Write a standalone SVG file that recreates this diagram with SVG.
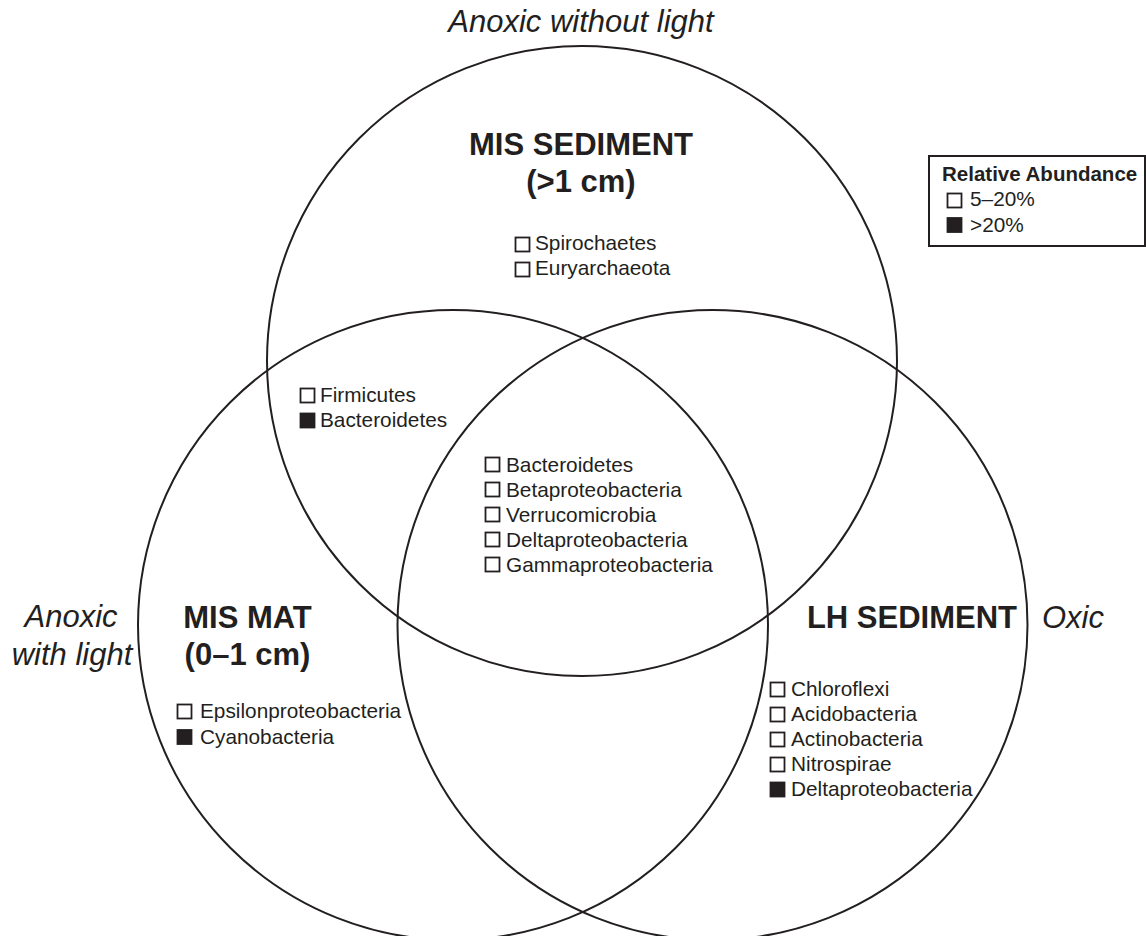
<svg xmlns="http://www.w3.org/2000/svg" width="1146" height="936" viewBox="0 0 1146 936">
<style>
.c{fill:none;stroke:#231f20;stroke-width:2}
.t{font-family:"Liberation Sans",Arial,sans-serif;fill:#231f20}
.h{font-size:31px;font-weight:bold;text-anchor:middle}
.i{font-size:31px;font-style:italic}
.l{font-size:20.8px}
.bo{fill:#fff;stroke:#231f20;stroke-width:1.8}
.bf{fill:#231f20;stroke:#231f20;stroke-width:1.8}
</style>
<rect width="1146" height="936" fill="#fff"/>
<g id="circles">
<circle id="c-top" class="c" cx="582" cy="361" r="315"/>
<circle id="c-left" class="c" cx="453" cy="625" r="315"/>
<circle id="c-right" class="c" cx="712.5" cy="625" r="315"/>
</g>
<g id="condition-labels" class="t i">
<text x="581" y="32" text-anchor="middle">Anoxic without light</text>
<text x="71" y="627" text-anchor="middle">Anoxic</text>
<text x="72" y="665" text-anchor="middle">with light</text>
<text x="1042" y="628">Oxic</text>
</g>
<g id="node-mis-sediment">
<text class="t h" x="581" y="155">MIS SEDIMENT</text>
<text class="t h" x="581" y="192">(&gt;1 cm)</text>
<rect class="bo" x="515.5" y="237.5" width="14" height="14"/>
<text class="t l" x="535" y="250">Spirochaetes</text>
<rect class="bo" x="515.5" y="262.5" width="14" height="14"/>
<text class="t l" x="535" y="275">Euryarchaeota</text>
</g>
<g id="node-mis-mat">
<text class="t h" x="247.5" y="628">MIS MAT</text>
<text class="t h" x="247.5" y="665">(0–1 cm)</text>
<rect class="bo" x="177.5" y="704.5" width="14" height="14"/>
<text class="t l" x="200" y="718">Epsilonproteobacteria</text>
<rect class="bf" x="177.5" y="730" width="14" height="14"/>
<text class="t l" x="200" y="744">Cyanobacteria</text>
</g>
<g id="node-lh-sediment">
<text class="t h" x="912" y="628">LH SEDIMENT</text>
<rect class="bo" x="770.5" y="682.5" width="14" height="14"/>
<text class="t l" x="791" y="696">Chloroflexi</text>
<rect class="bo" x="770.5" y="707.5" width="14" height="14"/>
<text class="t l" x="791" y="721">Acidobacteria</text>
<rect class="bo" x="770.5" y="732.5" width="14" height="14"/>
<text class="t l" x="791" y="746">Actinobacteria</text>
<rect class="bo" x="770.5" y="757.5" width="14" height="14"/>
<text class="t l" x="791" y="771">Nitrospirae</text>
<rect class="bf" x="770.5" y="782.5" width="14" height="14"/>
<text class="t l" x="791" y="796">Deltaproteobacteria</text>
</g>
<g id="node-top-left-overlap">
<rect class="bo" x="300.5" y="388.5" width="14" height="14"/>
<text class="t l" x="320" y="402">Firmicutes</text>
<rect class="bf" x="300.5" y="413.5" width="14" height="14"/>
<text class="t l" x="320" y="427">Bacteroidetes</text>
</g>
<g id="node-center">
<rect class="bo" x="485.5" y="457.5" width="14" height="14"/>
<text class="t l" x="506" y="472">Bacteroidetes</text>
<rect class="bo" x="485.5" y="482.5" width="14" height="14"/>
<text class="t l" x="506" y="497">Betaproteobacteria</text>
<rect class="bo" x="485.5" y="507.5" width="14" height="14"/>
<text class="t l" x="506" y="522">Verrucomicrobia</text>
<rect class="bo" x="485.5" y="532.5" width="14" height="14"/>
<text class="t l" x="506" y="547">Deltaproteobacteria</text>
<rect class="bo" x="485.5" y="557.5" width="14" height="14"/>
<text class="t l" x="506" y="572">Gammaproteobacteria</text>
</g>
<g id="legend">
<rect x="929" y="156" width="216" height="90" fill="#fff" stroke="#231f20" stroke-width="2"/>
<text class="t" x="942" y="181" font-size="20.5" font-weight="bold">Relative Abundance</text>
<rect class="bo" x="947.5" y="193.5" width="14" height="14"/>
<text class="t l" x="970" y="206">5–20%</text>
<rect class="bf" x="947.5" y="218" width="14" height="14"/>
<text class="t l" x="970" y="232">&gt;20%</text>
</g>
</svg>
